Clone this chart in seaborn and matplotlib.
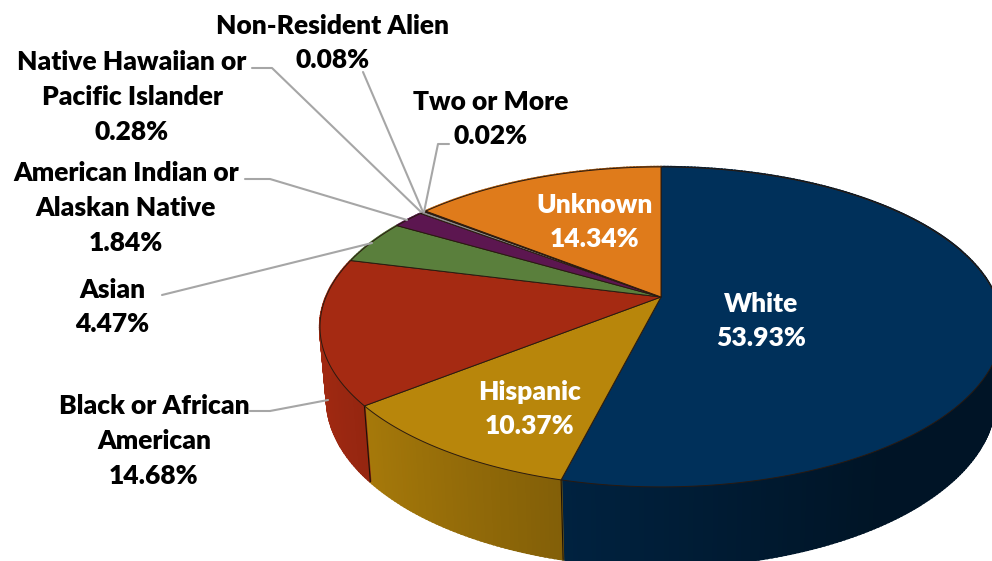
import numpy as np
import matplotlib
matplotlib.use('Agg')
import matplotlib.pyplot as plt
import seaborn as sns

groups = ['White', 'Hispanic', 'Black or African\nAmerican', 'Asian',
          'American Indian or\nAlaskan Native', 'Native Hawaiian or\nPacific Islander',
          'Non-Resident Alien', 'Two or More', 'Unknown']
shares = [53.93, 10.37, 14.68, 4.47, 1.84, 0.28, 0.08, 0.02, 14.34]
colors = ['#00305A', '#B8860B', '#A52A12', '#5A7F3C', '#5C1650',
          '#8C8C8C', '#7F7F7F', '#A6A6A6', '#DF7B1B']

sns.set_theme(style='white')
plt.rcParams['font.family'] = ['Lato', 'DejaVu Sans']
palette = sns.color_palette(colors)

# pixel positions of the labels, the picture is used as data space
label_pos = [(761, 321), (530, 409), (154, 441), (112, 307), (126, 208),
             (132, 97), (333, 43), (491, 119), (595, 222)]
label_color = ['white', 'white', 'black', 'black', 'black', 'black', 'black', 'black', 'white']
leaders = [
    None, None,
    [(250, 411), (270, 411), (328, 400)],
    [(162, 295), (372, 243)],
    [(245, 179), (270, 179), (407, 220)],
    [(252, 68), (272, 68), (421, 212)],
    [(363, 72), (423, 212)],
    [(449, 144), (438, 144), (424, 212)],
    None,
]


def top_face(theta):
    # tilted circle in perspective, theta runs clockwise from 12 o'clock
    u, v = np.sin(theta), np.cos(theta)
    d = 1 + 0.187 * v
    return 661 + 335 * u / d, 297 - 154.4 * v / d


def bottom_face(theta):
    x, y = top_face(theta)
    return 661 + 0.98 * (x - 661), 400 + 1.05 * (y - 328)


fig = plt.figure(figsize=(9.92, 5.61), dpi=100)
ax = fig.add_axes([0, 0, 1, 1])
ax.set_xlim(0, 992)
ax.set_ylim(561, 0)
ax.axis('off')

fractions = np.array(shares) / np.sum(shares)
edges = np.concatenate([[0], np.cumsum(fractions)]) * 2 * np.pi

# side wall first, top face covers whatever is at the back
for i, col in enumerate(palette):
    steps = max(2, int((edges[i + 1] - edges[i]) / 0.012))
    th = np.linspace(edges[i], edges[i + 1], steps + 1)
    for a, b in zip(th[:-1], th[1:]):
        shade = np.clip(0.62 - 0.36 * np.sin((a + b) / 2), 0.42, 0.97)
        c = tuple(shade * np.array(col))
        xa, ya = top_face(a)
        xb, yb = top_face(b)
        xc, yc = bottom_face(b)
        xd, yd = bottom_face(a)
        ax.fill([xa, xb, xc, xd], [ya, yb, yc, yd], color=c, lw=1.6, zorder=1)

for e in edges[1:3]:
    xa, ya = top_face(e)
    xb, yb = bottom_face(e)
    ax.plot([xa, xb], [ya, yb], color='#1a1208', lw=0.8, zorder=2)

for i, col in enumerate(palette):
    th = np.linspace(edges[i], edges[i + 1], 200)
    xs, ys = top_face(th)
    ax.fill(np.r_[661, xs], np.r_[297, ys], facecolor=col, edgecolor='#2a1a10', lw=0.7, zorder=3)

for pts in leaders:
    if pts:
        ax.plot([p[0] for p in pts], [p[1] for p in pts], color='#A6A6A6', lw=1.5, zorder=4)

for name, val, pos, c in zip(groups, shares, label_pos, label_color):
    ax.text(pos[0], pos[1], '{0}\n{1:.2f}%'.format(name, val), color=c, ha='center', va='center',
            fontsize=19, fontweight=800, linespacing=1.53, zorder=5)

fig.savefig('out.png', dpi=100)
